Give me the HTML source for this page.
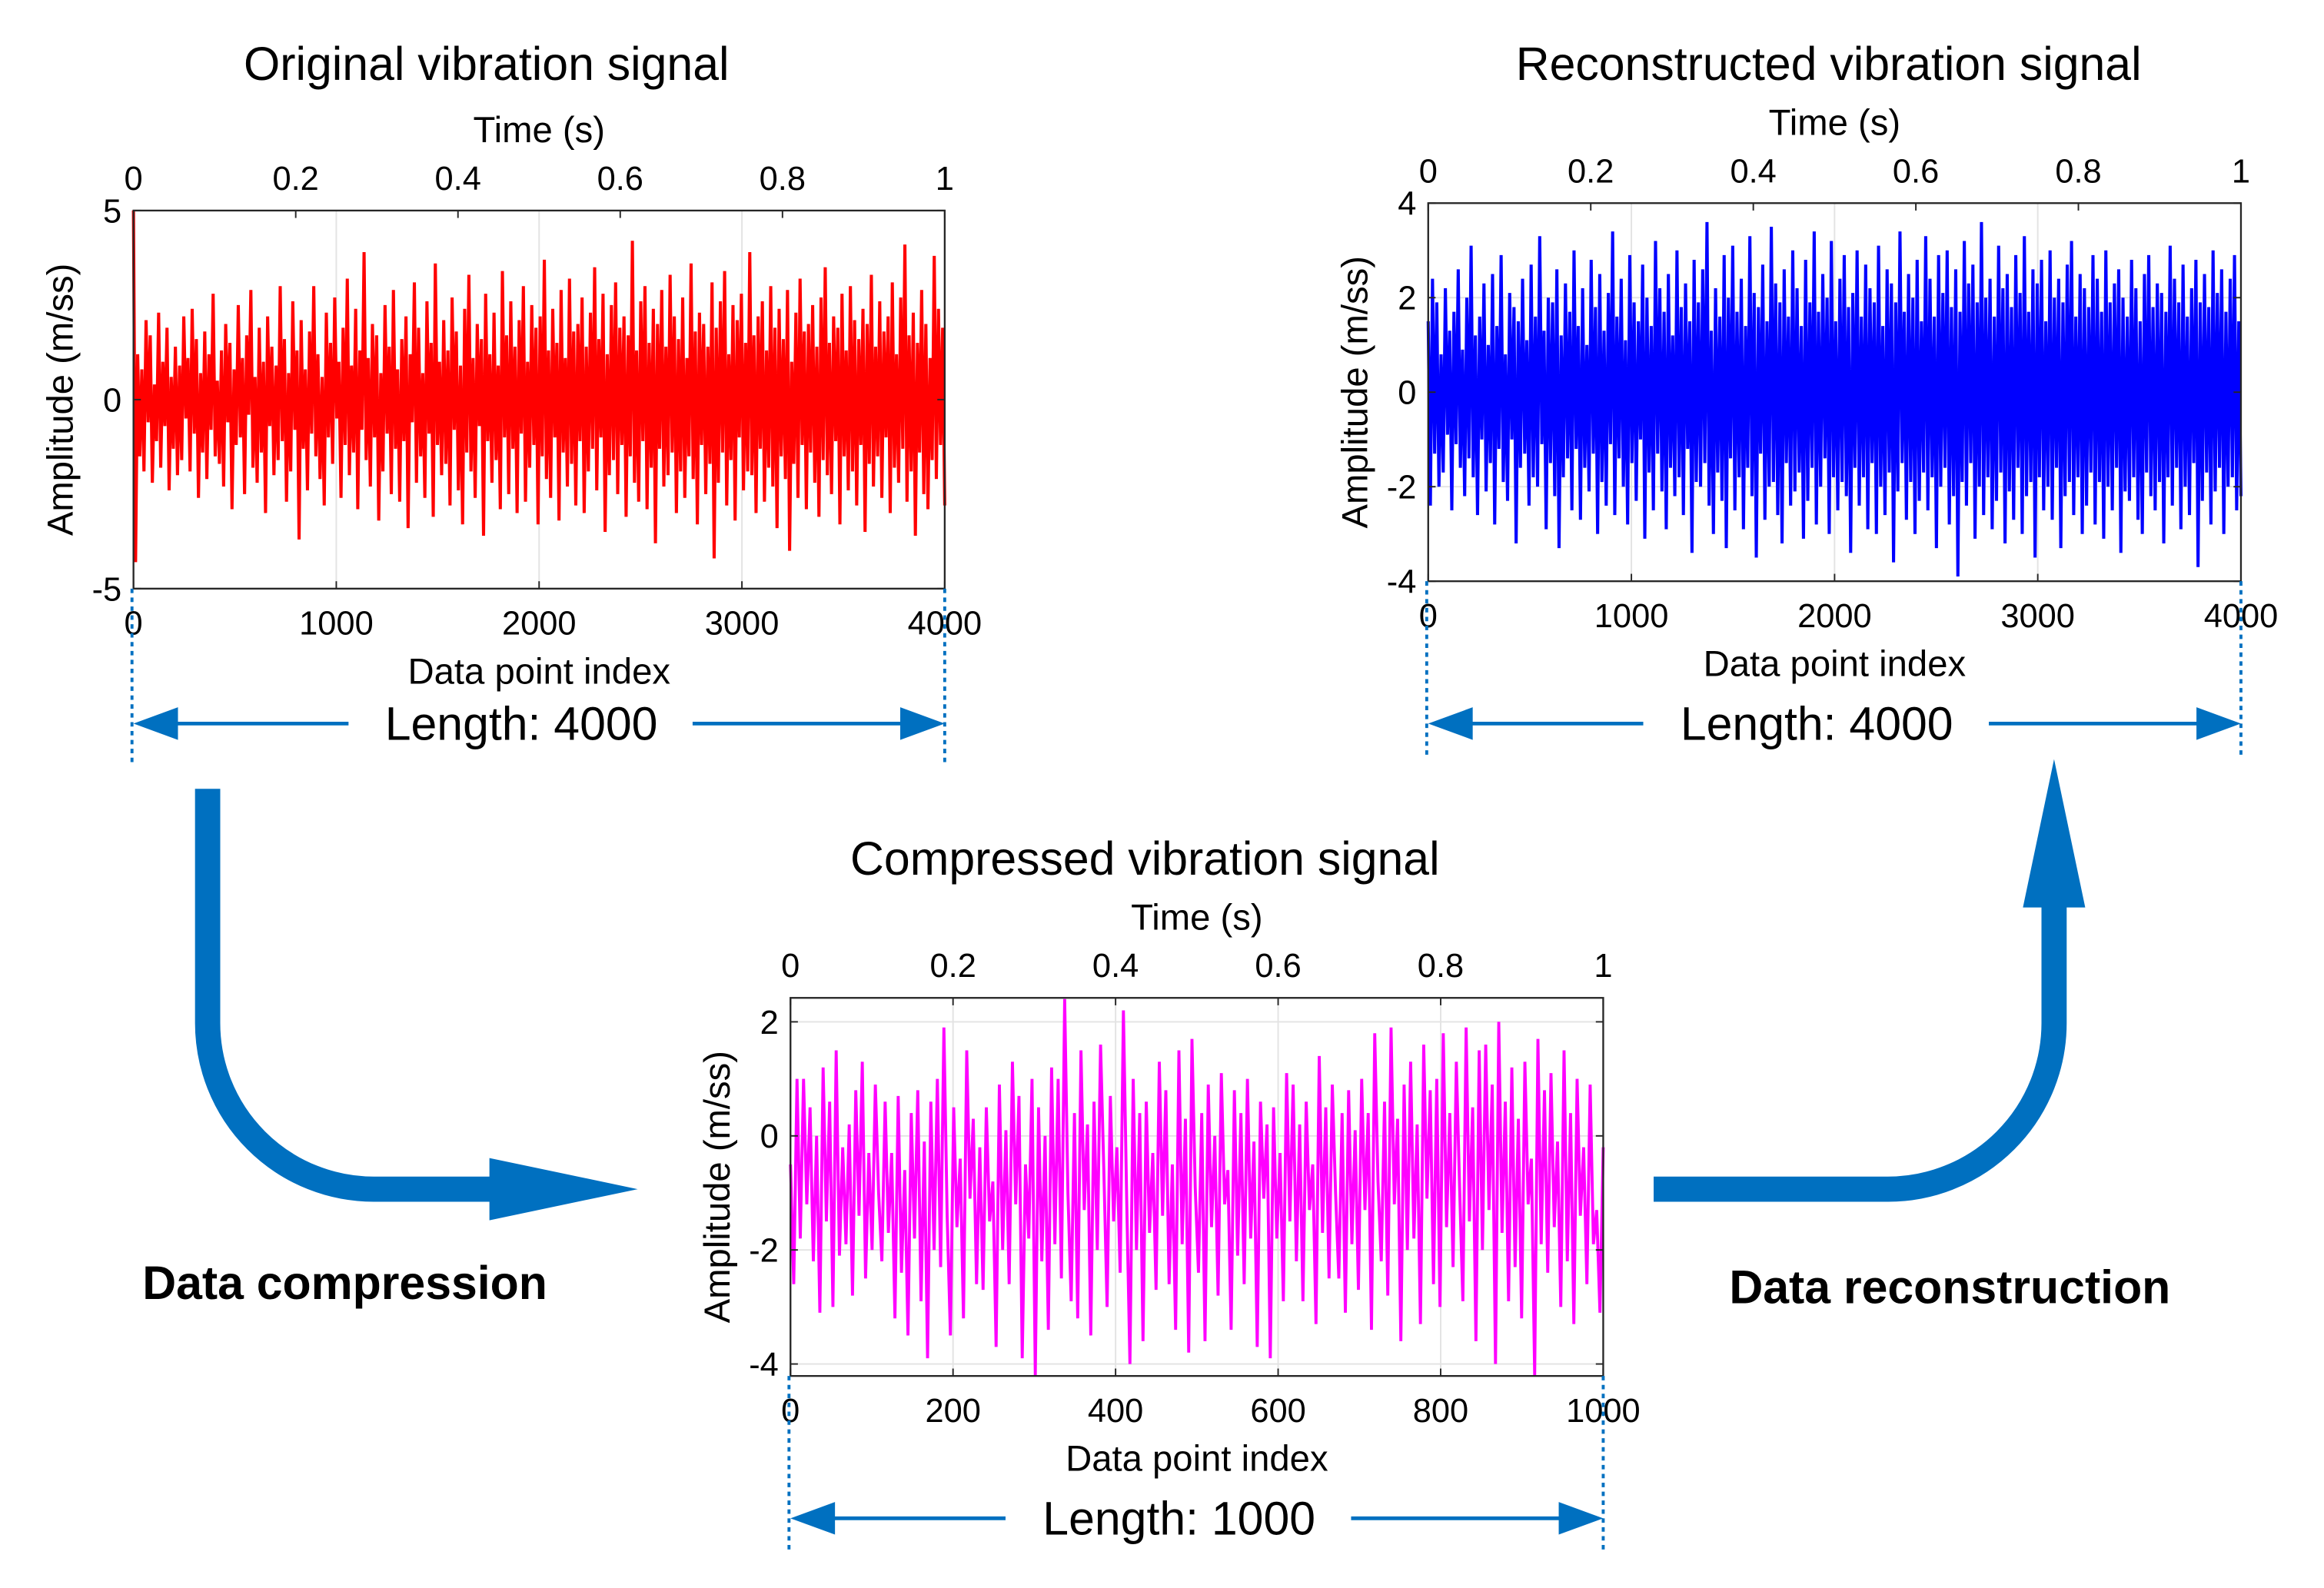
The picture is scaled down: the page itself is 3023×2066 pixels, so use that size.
<!DOCTYPE html>
<html><head><meta charset="utf-8"><style>
html,body{margin:0;padding:0;background:#fff;}
svg{display:block;}
text{font-family:"Liberation Sans",sans-serif;fill:#000;}
</style></head><body>
<svg id="fig" width="3023" height="2066" viewBox="0 0 1567 1071" preserveAspectRatio="none" xmlns="http://www.w3.org/2000/svg">
<rect x="0" y="0" width="1567" height="1071" fill="#fff"/>
<g>
<path d="M140 532 L140 690 A112 112 0 0 0 252 802 L335 802" fill="none" stroke="#0070C0" stroke-width="17"/>
<polygon points="330,781 430,802 330,823" fill="#0070C0"/>
</g>
<g>
<path d="M1115 802 L1273 802 A112 112 0 0 0 1385 690 L1385 605" fill="none" stroke="#0070C0" stroke-width="17"/>
<polygon points="1364,612 1385,512 1406,612" fill="#0070C0"/>
</g>
<text x="96" y="876" font-size="31.5" font-weight="bold">Data compression</text>
<text x="1166" y="879" font-size="31.5" font-weight="bold">Data reconstruction</text>
</svg>
<script>
const p1Values=[5,-4.3,1.2,-1.5,0.8,-1.9,2.1,-0.6,1.7,-2.2,0.4,-1.1,2.3,-1.8,1.0,-0.7,1.9,-2.4,0.6,-1.3,1.4,-2.0,0.9,-1.6,2.2,-0.5,1.1,-1.9,2.4,-0.9,1.6,-2.6,0.7,-1.4,1.8,-2.1,1.2,-0.8,2.8,-1.5,0.5,-1.7,1.3,-2.3,2.0,-0.6,1.5,-2.9,0.8,-1.2,2.5,-1.0,1.1,-2.5,1.7,-0.4,2.9,-1.8,0.6,-2.2,1.9,-1.4,1.0,-3.0,2.2,-0.7,1.4,-2.0,0.9,-1.6,3.0,-1.1,1.6,-2.7,0.7,-1.9,2.6,-0.8,1.3,-3.7,2.1,-1.3,0.8,-2.4,1.8,-0.9,3.0,-1.5,1.2,-2.1,0.6,-2.8,2.3,-1.0,1.5,-1.7,2.7,-0.5,1.0,-2.6,1.9,-1.2,3.2,-2.0,0.9,-1.4,2.4,-2.9,1.3,-0.8,3.9,-1.6,1.1,-2.3,2.0,-1.0,1.7,-3.2,0.7,-1.9,2.5,-0.9,1.4,-2.5,2.9,-1.3,0.8,-2.7,1.6,-1.1,2.2,-3.4,1.2,-0.6,3.1,-2.2,1.9,-1.5,0.7,-2.6,2.6,-0.9,1.5,-3.1,3.6,-1.2,1.0,-2.0,2.1,-1.7,1.3,-2.8,2.7,-0.8,1.8,-2.4,0.9,-3.3,2.4,-1.4,3.3,-1.9,1.1,-2.6,2.0,-0.7,1.6,-3.6,2.8,-1.1,1.2,-2.2,2.3,-1.6,0.9,-2.9,3.4,-1.0,1.7,-2.5,2.6,-1.3,1.4,-3.0,2.1,-0.9,3.0,-2.7,1.0,-1.8,2.5,-1.2,1.9,-3.3,2.2,-1.5,3.7,-2.1,1.3,-2.6,2.4,-1.0,1.5,-3.2,2.9,-1.4,1.1,-2.3,3.2,-1.7,1.8,-2.8,2.0,-1.1,2.7,-3.0,1.4,-1.9,2.3,-1.3,3.5,-2.4,1.6,-1.0,2.8,-3.5,1.2,-2.0,2.5,-1.6,3.1,-2.5,1.9,-1.2,2.2,-3.1,1.7,-1.5,4.2,-2.2,1.3,-2.7,2.6,-1.1,3.0,-2.9,1.5,-1.8,2.4,-3.8,2.0,-1.3,2.9,-2.3,1.4,-2.0,3.3,-1.4,2.2,-3.0,1.6,-1.9,2.7,-2.6,1.1,-1.5,3.6,-2.1,1.8,-3.3,2.3,-1.2,2.0,-2.5,1.4,-1.7,3.1,-4.2,1.9,-2.2,2.6,-1.4,3.4,-2.8,1.2,-1.6,2.5,-3.2,2.1,-1.0,2.8,-2.4,1.5,-1.9,3.9,-2.0,1.7,-3.0,2.2,-1.3,2.6,-2.7,1.3,-1.8,3.0,-2.3,1.9,-3.4,2.4,-1.5,1.6,-2.1,2.9,-4.0,1.0,-1.7,2.3,-2.6,3.2,-1.2,1.8,-2.9,2.0,-1.4,2.5,-2.2,1.4,-3.1,2.7,-1.6,3.5,-2.0,1.5,-2.5,2.2,-1.1,1.9,-3.3,2.8,-1.5,1.3,-2.4,3.0,-1.9,2.1,-2.8,1.6,-1.2,2.4,-3.5,2.0,-1.7,3.3,-2.3,1.4,-1.5,2.6,-2.6,1.8,-1.0,2.2,-3.0,3.1,-1.8,1.2,-2.2,2.7,-1.3,4.1,-2.7,1.7,-1.9,2.3,-3.6,1.5,-1.4,2.9,-2.5,2.0,-2.9,1.1,-1.6,3.8,-2.1,2.4,-1.2,1.9,-2.8];
const p2Values=[1.5,-2.4,2.4,-1.3,1.9,-2.0,0.8,-1.7,2.2,-0.9,1.3,-2.5,1.7,-1.1,2.6,-1.6,0.9,-2.2,2.0,-1.4,3.1,-1.8,1.2,-2.6,1.6,-1.0,2.3,-2.1,1.0,-1.5,2.5,-2.8,1.4,-1.2,2.9,-1.9,0.8,-2.3,2.1,-1.0,1.8,-3.2,1.5,-1.6,2.4,-1.3,1.1,-2.4,2.7,-1.8,1.6,-2.0,3.3,-1.1,1.3,-2.9,2.0,-1.5,1.9,-2.2,2.6,-3.3,1.2,-1.8,2.3,-1.4,1.7,-2.5,3.0,-1.2,1.4,-2.7,2.2,-1.6,1.0,-2.1,2.8,-1.3,1.8,-3.0,2.5,-1.9,1.3,-2.4,2.1,-1.1,3.4,-2.6,1.6,-1.4,2.4,-2.0,1.1,-2.8,2.9,-1.5,1.9,-2.3,1.5,-1.0,2.7,-3.1,2.0,-1.7,1.4,-2.5,3.2,-1.3,2.2,-2.1,1.7,-2.9,2.5,-1.6,1.2,-2.2,3.0,-1.8,1.8,-2.6,2.3,-1.2,1.5,-3.4,2.8,-1.9,1.9,-2.0,2.6,-1.5,3.6,-2.4,1.3,-3.0,2.2,-1.7,1.6,-2.3,2.9,-3.3,2.0,-1.4,3.1,-2.5,1.7,-1.8,2.4,-2.9,1.4,-1.6,3.3,-2.2,2.1,-3.5,1.8,-1.3,2.7,-2.7,1.5,-2.0,3.5,-1.9,2.3,-2.6,1.9,-3.2,2.6,-1.5,1.6,-2.4,3.0,-2.1,2.2,-1.7,1.4,-3.1,2.8,-2.3,1.9,-1.6,3.4,-2.8,1.7,-2.0,2.5,-1.4,2.0,-3.0,3.2,-1.8,1.5,-2.5,2.4,-1.9,2.9,-2.2,1.8,-3.4,2.1,-1.6,3.0,-2.4,1.6,-1.8,2.7,-2.9,2.2,-1.5,1.9,-3.0,3.1,-2.0,1.4,-2.6,2.6,-1.7,2.3,-3.6,1.9,-2.1,3.4,-1.5,1.7,-2.7,2.5,-1.9,2.0,-3.0,2.8,-2.3,1.5,-1.7,3.3,-2.5,2.4,-1.8,1.6,-3.3,2.9,-2.0,2.1,-1.6,3.0,-2.8,1.8,-2.2,2.6,-3.9,1.7,-1.9,3.2,-2.4,2.3,-1.5,2.7,-3.1,1.9,-2.0,3.6,-2.6,2.0,-1.8,2.4,-2.9,1.6,-2.3,3.1,-1.7,2.2,-3.2,2.5,-2.1,1.8,-2.7,2.9,-1.6,2.1,-3.0,3.3,-2.2,1.7,-1.9,2.6,-3.5,2.3,-1.8,2.8,-2.5,1.5,-2.0,3.0,-2.7,2.0,-1.6,2.4,-3.3,1.9,-2.2,2.7,-1.9,3.2,-2.6,1.6,-1.8,2.5,-3.0,2.2,-2.4,1.8,-1.7,2.9,-2.8,2.4,-1.9,1.7,-3.1,3.0,-2.0,1.9,-2.5,2.3,-1.6,2.6,-3.4,2.0,-2.1,1.6,-2.3,2.8,-1.8,2.2,-2.7,1.5,-3.0,2.5,-1.7,2.9,-2.2,1.8,-2.5,2.3,-1.9,2.1,-3.2,1.7,-1.8,3.1,-2.4,2.4,-1.6,1.9,-2.9,2.7,-2.0,1.6,-2.6,2.2,-1.5,2.8,-3.7,1.9,-2.3,2.5,-1.7,1.8,-2.8,3.0,-2.1,2.1,-1.6,2.6,-3.0,1.7,-2.0,2.4,-1.8,2.9,-2.5,1.5,-2.2];
const p3Values=[-0.5,-2.6,1.0,-1.8,1.0,-1.2,0.5,-2.2,0.0,-3.1,1.2,-1.5,0.6,-3.0,1.5,-2.1,-0.2,-1.9,0.2,-2.8,0.8,-1.4,1.3,-2.5,-0.3,-2.0,0.9,-1.0,-2.2,0.6,-1.7,-0.3,-3.2,0.7,-2.4,-0.6,-3.5,0.4,-1.8,0.8,-2.9,-0.1,-3.9,0.6,-2.0,1.0,-2.3,1.9,-1.4,-3.5,0.5,-1.6,-0.4,-3.2,1.5,-1.1,0.3,-2.6,-0.2,-2.7,0.5,-1.5,-0.8,-3.7,0.9,-2.0,0.1,-2.6,1.3,-1.2,0.7,-3.9,-0.5,-1.8,1.0,-4.2,0.5,-2.2,0.0,-3.4,1.2,-1.9,1.0,-2.5,2.4,-1.0,-2.9,0.4,-3.2,1.5,-1.3,0.2,-3.5,0.6,-2.0,1.6,-0.6,-3.0,0.7,-1.5,-0.2,-2.4,2.2,-1.1,-4.0,1.0,-2.0,0.4,-3.6,0.6,-1.7,-0.3,-2.7,1.3,-1.4,0.8,-2.6,-0.5,-3.4,1.5,-1.9,0.3,-3.8,1.7,-0.9,-2.4,0.4,-3.6,0.9,-1.6,0.0,-2.8,1.1,-1.2,-0.6,-3.4,0.8,-2.1,0.4,-2.6,1.0,-1.8,-0.1,-3.7,0.6,-1.1,0.2,-3.9,0.5,-1.8,-0.3,-2.9,1.1,-1.5,0.9,-2.2,0.2,-2.9,0.6,-1.3,-0.5,-3.3,1.4,-1.7,0.5,-2.5,0.9,-1.0,-2.5,0.4,-3.1,0.8,-1.9,0.1,-2.7,1.0,-1.3,0.4,-3.4,1.8,-0.8,-2.2,0.6,-2.8,1.9,-1.2,0.3,-3.6,0.9,-2.0,1.3,-1.8,0.2,-3.3,1.6,-1.1,0.8,-2.6,1.0,-3.0,1.8,-1.6,0.4,-2.3,1.3,-0.9,-2.9,1.9,-1.5,0.5,-3.6,1.5,-2.0,1.6,-1.3,0.9,-4.0,2.0,-1.7,0.6,-2.9,1.2,-2.3,0.3,-3.2,1.3,-1.2,-0.4,-4.2,1.7,-1.9,0.8,-2.4,1.1,-1.6,-0.1,-3.0,1.5,-2.2,0.4,-3.3,1.0,-1.4,-0.2,-2.6,0.9,-1.9,-1.3,-3.1,-0.2];
const xTicksLong=[0,1000,2000,3000,4000];
const xTicksShort=[0,200,400,600,800,1000];
const timeTicks=[0,0.2,0.4,0.6,0.8,1];
const yTicks1=[-5,0,5];
const yTicks2=[-4,-2,0,2,4];
const yTicks3=[-4,-2,0,2];
const NS='http://www.w3.org/2000/svg';
const svg=document.getElementById('fig');
function mk(tag,attrs,parent){const e=document.createElementNS(NS,tag);for(const k in attrs)e.setAttribute(k,attrs[k]);(parent||svg).appendChild(e);return e;}
function txt(s,attrs,parent){const e=mk('text',attrs,parent);e.textContent=s;return e;}
function drawPlot(cfg){
  const g=mk('g',{});
  
  
  const {x0,x1,y0,y1}=cfg;
  const sx=v=>x0+v/cfg.xmax*(x1-x0);
  const sy=v=>y1-(v-cfg.ymin)/(cfg.ymax-cfg.ymin)*(y1-y0);
  const st=v=>x0+v*(x1-x0);
  const n=cfg.values.length;
  cfg.xTicks.forEach(t=>{const l=mk('line',{x1:sx(t),x2:sx(t),y1:y0,y2:y1,stroke:'#e3e3e3','stroke-width':1},g);
    
    });
  cfg.yTicks.forEach(t=>{const l=mk('line',{x1:x0,x2:x1,y1:sy(t),y2:sy(t),stroke:'#e3e3e3','stroke-width':1},g);
    
    });
  let d='';
  cfg.values.forEach((v,i)=>{d+=(i?'L':'M')+sx(i/(n-1)*cfg.xmax).toFixed(2)+' '+sy(v).toFixed(2);});
  const p=mk('path',{d:d,fill:'none',stroke:cfg.color,'stroke-width':cfg.sw,'stroke-linejoin':'miter'},g);
  
  
  const b=mk('rect',{x:x0,y:y0,width:x1-x0,height:y1-y0,fill:'none',stroke:'#262626','stroke-width':1.2},g);
  
  
  cfg.xTicks.forEach(t=>{mk('line',{x1:sx(t),x2:sx(t),y1:y1,y2:y1-5,stroke:'#262626'},g);
    const e=txt(String(t),{x:sx(t),y:y1+31,'font-size':22.5,'text-anchor':'middle'},g);
    
    });
  timeTicks.forEach(t=>{mk('line',{x1:st(t),x2:st(t),y1:y0,y2:y0+5,stroke:'#262626'},g);
    const e=txt(String(t),{x:st(t),y:y0-14,'font-size':22.5,'text-anchor':'middle'},g);
    
    });
  cfg.yTicks.forEach(t=>{mk('line',{x1:x0,x2:x0+5,y1:sy(t),y2:sy(t),stroke:'#262626'},g);
    mk('line',{x1:x1,x2:x1-5,y1:sy(t),y2:sy(t),stroke:'#262626'},g);
    const e=txt(String(t),{x:x0-8,y:sy(t)+8,'font-size':22.5,'text-anchor':'end'},g);
    
    });
  const xc=(x0+x1)/2;
  let e=txt('Data point index',{x:xc,y:y1+64,'font-size':24.5,'text-anchor':'middle'},g);
  
  
  e=txt('Time (s)',{x:xc,y:y0-46,'font-size':24.5,'text-anchor':'middle'},g);
  
  
  e=txt(cfg.title,{x:cfg.titleX,y:cfg.titleY,'font-size':31.5,'text-anchor':'middle'},g);
  
  
  const ym=(y0+y1)/2;
  const lx=x0-41;
  e=txt('Amplitude (m/ss)',{x:lx,y:ym,'font-size':24.5,'text-anchor':'middle',transform:'rotate(-90 '+lx+' '+ym+')'},g);
  
  
  const ly=cfg.ly;
  [x0-1,x1].forEach(x=>{const l=mk('line',{x1:x,x2:x,y1:y1,y2:y1+118,stroke:'#0070C0','stroke-width':2,'stroke-dasharray':'3,3'},g);
    
    });
  const a=mk('g',{},g);
  
  
  mk('line',{x1:x0+25,x2:x0+145,y1:ly,y2:ly,stroke:'#0070C0','stroke-width':2.5},a);
  mk('line',{x1:x1-170,x2:x1-25,y1:ly,y2:ly,stroke:'#0070C0','stroke-width':2.5},a);
  mk('polygon',{points:(x0)+','+ly+' '+(x0+30)+','+(ly-11)+' '+(x0+30)+','+(ly+11),fill:'#0070C0'},a);
  mk('polygon',{points:(x1)+','+ly+' '+(x1-30)+','+(ly-11)+' '+(x1-30)+','+(ly+11),fill:'#0070C0'},a);
  e=txt(cfg.lenText,{x:xc-12,y:ly+11,'font-size':31.5,'text-anchor':'middle'},g);
  
  
}
drawPlot({name:'original-signal-plot',x0:90,x1:637,y0:142,y1:397,xmax:4000,ymin:-5,ymax:5,values:p1Values,color:'#ff0000',sw:2.1,xTicks:xTicksLong,yTicks:yTicks1,title:'Original vibration signal',titleX:328,titleY:54,ly:488,lenText:'Length: 4000'});
drawPlot({name:'reconstructed-signal-plot',x0:963,x1:1511,y0:137,y1:392,xmax:4000,ymin:-4,ymax:4,values:p2Values,color:'#0000ff',sw:2.1,xTicks:xTicksLong,yTicks:yTicks2,title:'Reconstructed vibration signal',titleX:1233,titleY:54,ly:488,lenText:'Length: 4000'});
drawPlot({name:'compressed-signal-plot',x0:533,x1:1081,y0:673,y1:928,xmax:1000,ymin:-4.21,ymax:2.42,values:p3Values,color:'#ff00ff',sw:2,xTicks:xTicksShort,yTicks:yTicks3,title:'Compressed vibration signal',titleX:772,titleY:590,ly:1024,lenText:'Length: 1000'});
</script>
</body></html>
